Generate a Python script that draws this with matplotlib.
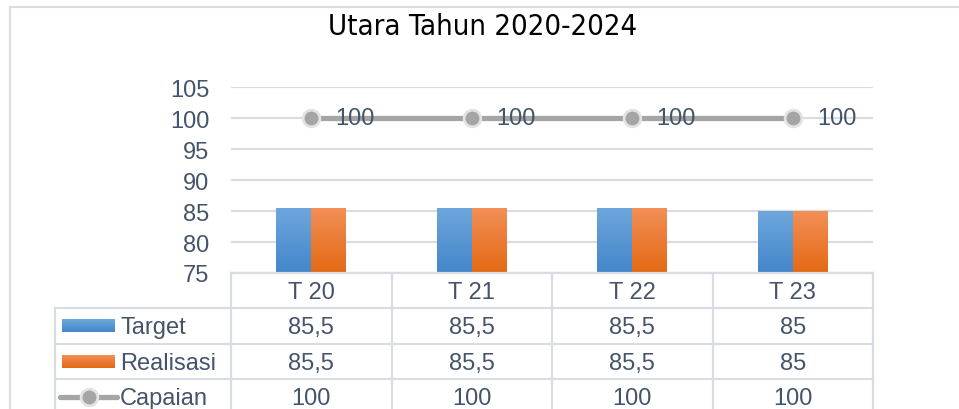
import numpy as np
import matplotlib
matplotlib.use("Agg")
import matplotlib.pyplot as plt
from matplotlib.colors import LinearSegmentedColormap
from matplotlib.patches import Rectangle
from matplotlib.lines import Line2D

# ---- data ----
title = "Utara Tahun 2020-2024"
categories = ["T 20", "T 21", "T 22", "T 23"]
target = [85.5, 85.5, 85.5, 85]
realisasi = [85.5, 85.5, 85.5, 85]
capaian = [100, 100, 100, 100]
series_names = ["Target", "Realisasi", "Capaian"]
yticks = [75, 80, 85, 90, 95, 100, 105]

def fmt(v):
    s = ("%g" % v)
    return s.replace(".", ",")

W, H = 959, 410
fig = plt.figure(figsize=(W / 100, H / 100), dpi=100)
fig.patch.set_facecolor("white")

TXT = "#44546A"
GRID = "#D9DDE3"
FONT = "Liberation Sans"
FS = 17
BLUE_T, BLUE_B = "#6EA7DD", "#4386CA"
ORG_T, ORG_B = "#F38F57", "#E46914"
GRAY = "#A5A5A5"

def px_x(p):
    return p / W
def px_y(p):
    return 1 - p / H

# outer chart border (left + top)
fig.add_artist(Line2D([px_x(10), px_x(10)], [px_y(8), 0], color=GRID, lw=1.5))
fig.add_artist(Line2D([px_x(10), 1.0], [px_y(8), px_y(8)], color=GRID, lw=1.5))

# title
fig.text(px_x(482.5), px_y(35), title, ha="center", va="baseline",
         fontsize=21, color="black", family="DejaVu Sans", fontstretch="condensed")

# ---- main axes ----
ax_l, ax_r, ax_top, ax_bot = 231, 873, 88, 274
ax = fig.add_axes([px_x(ax_l), px_y(ax_bot), (ax_r - ax_l) / W, (ax_bot - ax_top) / H])
ax.set_xlim(-0.5, len(categories) - 0.5)
ax.set_ylim(yticks[0], yticks[-1])
ax.set_yticks(yticks)
ax.set_yticklabels([str(t) for t in yticks], fontsize=FS, color=TXT, family=FONT)
ax.tick_params(axis="y", length=0, pad=15.5)
ax.set_xticks([])
for s in ax.spines.values():
    s.set_visible(False)
ax.yaxis.grid(True, color=GRID, lw=1.6)
ax.set_axisbelow(True)

x = np.arange(len(categories))
bw = 0.218

def grad_fill(axis, patch, ctop, cbot, ymin):
    x0, y0 = patch.get_x(), patch.get_y()
    w, h = patch.get_width(), patch.get_height()
    lo = max(y0, ymin)
    cmap = LinearSegmentedColormap.from_list("g", [cbot, ctop])
    grad = np.linspace(0, 1, 128).reshape(-1, 1)
    im = axis.imshow(grad, extent=[x0, x0 + w, lo, y0 + h], origin="lower",
                     cmap=cmap, aspect="auto", zorder=2, interpolation="bilinear")
    im.set_clip_path(patch)
    patch.set_facecolor("none")

b1 = ax.bar(x - bw / 2, target, bw, color=BLUE_B, zorder=2, lw=0)
b2 = ax.bar(x + bw / 2, realisasi, bw, color=ORG_B, zorder=2, lw=0)
for p in b1:
    grad_fill(ax, p, BLUE_T, BLUE_B, yticks[0])
for p in b2:
    grad_fill(ax, p, ORG_T, ORG_B, yticks[0])
ax.set_xlim(-0.5, len(categories) - 0.5)
ax.set_ylim(yticks[0], yticks[-1])

ax.plot(x, capaian, color=GRAY, lw=3.8, marker="o", ms=12, mfc=GRAY,
        mec="#E3E3E3", mew=2, zorder=4, solid_capstyle="butt")
for xi, v in zip(x, capaian):
    ax.annotate(fmt(v), (xi, v), xytext=(17.5, 0), textcoords="offset points",
                ha="left", va="center", fontsize=FS, color=TXT, family=FONT, zorder=5)

# ---- data table ----
tab_left = 55
row_h = 35.3
n = len(categories)
colw = (ax_r - ax_l) / n
xl = -0.5 - (ax_l - tab_left) / colw
tab_h_px = H - ax_bot
ax_t = fig.add_axes([px_x(tab_left), 0, (ax_r - tab_left) / W, tab_h_px / H])
ax_t.set_xlim(xl, n - 0.5)
ax_t.set_ylim(tab_h_px / row_h, 0)
ax_t.axis("off")

lk = dict(color=GRID, lw=1.6, clip_on=False)
ax_t.plot([-0.5, n - 0.5], [0, 0], **lk)
for r in range(1, 5):
    ax_t.plot([xl, n - 0.5], [r, r], **lk)
for c in range(n + 1):
    ax_t.plot([c - 0.5, c - 0.5], [0, 4], **lk)
ax_t.plot([xl, xl], [1, 4], **lk)

tk = dict(fontsize=FS, color=TXT, family=FONT, ha="center", va="center")
for i, c in enumerate(categories):
    ax_t.text(i, 0.54, c, **tk)
for r, vals in enumerate([target, realisasi, capaian], start=1):
    for i, v in enumerate(vals):
        ax_t.text(i, r + 0.54, fmt(v), **tk)

def dx(p):
    return (p - ax_l) / colw - 0.5

# legend keys
key_x0, key_x1 = dx(62), dx(115)
kh = 13 / row_h
for r, (ct, cb) in zip([1, 2], [(BLUE_T, BLUE_B), (ORG_T, ORG_B)]):
    rect = Rectangle((key_x0, r + 0.5 - kh / 2), key_x1 - key_x0, kh, lw=0, fc=cb)
    ax_t.add_patch(rect)
    cmap = LinearSegmentedColormap.from_list("g", [ct, cb])
    im = ax_t.imshow(np.linspace(0, 1, 64).reshape(-1, 1),
                     extent=[key_x0, key_x1, r + 0.5 + kh / 2, r + 0.5 - kh / 2],
                     origin="upper", cmap=cmap, aspect="auto", zorder=3)
    im.set_clip_path(rect)
ax_t.plot([dx(60), dx(117)], [3.5, 3.5], color=GRAY, lw=3.8, solid_capstyle="round", zorder=3)
ax_t.plot([dx(88.5)], [3.5], marker="o", ms=12, mfc=GRAY, mec="#E3E3E3", mew=2, zorder=4)
ax_t.set_xlim(xl, n - 0.5)
ax_t.set_ylim(tab_h_px / row_h, 0)
for r, name in enumerate(series_names, start=1):
    ax_t.text(dx(120), r + 0.54, name, fontsize=FS, color=TXT, family=FONT,
              ha="left", va="center")

fig.savefig("out.png", dpi=100, facecolor="white")
